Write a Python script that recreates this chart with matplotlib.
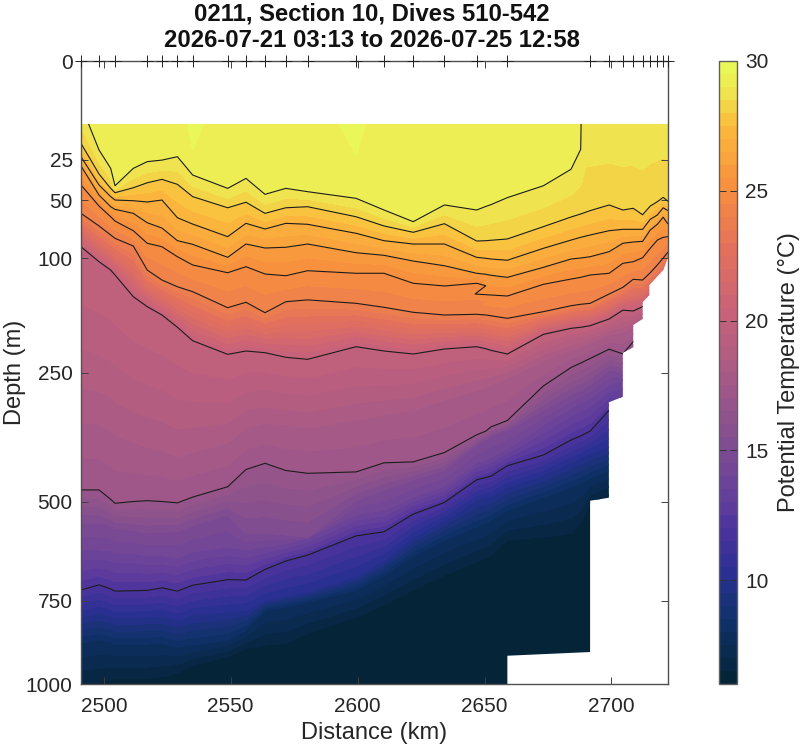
import numpy as np
import matplotlib
matplotlib.use('Agg')
import matplotlib.pyplot as plt
from matplotlib.colors import LinearSegmentedColormap
from matplotlib.patches import Polygon

plt.rcParams['font.family'] = ['Liberation Sans', 'DejaVu Sans']

# grid columns along the section (km)
station_km = [2491.0, 2498.1, 2502.7, 2504.4, 2511.6, 2517.1, 2522.9, 2529.0, 2535.0, 2548.8,
              2556.0, 2563.5, 2571.7, 2580.3, 2599.4, 2610.4, 2621.9, 2634.2, 2646.9, 2650.5,
              2652.5, 2659.0, 2673.2, 2684.1, 2687.9, 2691.6, 2699.1, 2704.5, 2708.6, 2712.3,
              2715.3, 2718.1, 2720.4, 2722.3]

# dive positions, marked along the top axis
dive_km = [2491.0, 2498.1, 2504.4, 2517.1, 2522.9, 2529.0, 2535.0, 2548.8, 2556.0, 2563.5,
           2571.7, 2580.3, 2599.4, 2610.4, 2621.9, 2634.2, 2646.9, 2659.0, 2691.6, 2699.1,
           2704.5, 2708.6, 2712.3, 2715.3, 2718.1, 2720.4, 2722.3]

# depth (m) of each isotherm at every column
depth_30 = [0.0] * 34
depth_295 = [0.1, 0.1, 0.1, 0.1, 0.1, 0.1, 0.1, 0.1, 20.4, 0.1,
             0.1, 0.1, 0.1, 0.1, 22.8, 0.1, 0.1, 0.1, 0.1, 0.1,
             0.1, 0.1, 0.1, 0.1, 0.1, 0.1, 0.1, 0.1, 0.1, 0.1,
             0.1, 0.1, 0.1, 0.1]
depth_29 = [5.0, 20.4, 29.7, 40.1, 29.7, 26.1, 25.3, 23.6, 33.5, 41.8,
            35.5, 45.8, 41.8, 44.0, 48.6, 57.2, 66.5, 53.4, 57.2, 54.5,
            53.2, 48.1, 40.1, 30.2, 20.1, 0.2, 0.2, 0.2, 0.2, 0.2,
            0.2, 0.2, 0.2, 0.2]
depth_28 = [17.5, 32.9, 41.8, 44.7, 41.4, 38.2, 36.1, 39.2, 47.4, 55.5,
            51.4, 59.8, 55.5, 54.7, 62.5, 70.1, 75.6, 68.2, 83.5, 83.2,
            82.8, 81.6, 70.7, 62.7, 60.3, 57.7, 53.4, 57.2, 55.9, 60.9,
            54.2, 51.0, 47.9, 50.7]
depth_27 = [23.6, 39.6, 47.4, 49.8, 50.3, 51.2, 49.8, 63.3, 68.5, 79.5,
            67.9, 72.7, 67.9, 68.7, 76.5, 83.2, 86.3, 86.3, 99.3, 100.3,
            101.0, 102.3, 90.4, 82.6, 80.1, 78.0, 74.2, 73.0, 73.0, 73.0,
            64.6, 61.1, 55.5, 57.7]
depth_26 = [28.4, 46.3, 54.7, 56.7, 59.8, 67.4, 71.9, 83.2, 86.6, 99.3,
            86.3, 90.1, 89.4, 86.3, 94.7, 97.3, 103.1, 108.0, 116.1, 117.2,
            118.3, 120.6, 109.7, 101.0, 100.0, 98.7, 93.7, 85.6, 84.4, 83.8,
            73.6, 68.7, 62.9, 68.5]
depth_25 = [39.6, 54.2, 62.5, 66.0, 74.2, 85.6, 88.9, 98.7, 107.2, 115.5,
            109.0, 116.9, 118.8, 113.3, 116.1, 116.1, 127.3, 130.4, 127.3, 130.1,
            139.9, 142.3, 128.5, 122.5, 120.6, 118.0, 116.1, 105.5, 103.8, 99.7,
            90.4, 82.6, 80.1, 79.5]
depth_24 = [59.8, 70.1, 78.0, 81.0, 88.2, 112.6, 123.6, 131.3, 137.1, 156.8,
            150.0, 163.2, 149.3, 147.0, 151.3, 156.3, 162.7, 166.2, 165.3, 166.2,
            167.2, 170.6, 161.9, 154.3, 152.5, 151.3, 139.9, 132.0, 122.8, 123.6,
            115.5, 107.2, 100.0, 94.0]
depth_20 = [88.9, 103.8, 112.6, 118.0, 143.1, 155.5, 166.2, 182.7, 201.6, 221.7,
            216.7, 219.2, 226.2, 229.3, 210.3, 216.7, 221.2, 213.7, 210.3, 213.3,
            215.7, 221.2, 192.5, 184.1, 182.7, 180.5, 171.5, 160.0, 161.0, 155.5,
            147.0, 137.5, 125.8, 114.7]
depth_18 = [336, 341, 350, 360, 374, 384, 390, 404, 394, 376,
            347, 338, 341, 347, 332, 323, 314, 296, 279, 275,
            270, 259, 232, 215, 210, 205, 193, 190, 182, 175,
            163, 149, 130, 118]
depth_17 = [474, 474, 495, 504, 500, 498, 500, 503, 490, 467,
            430, 417, 432, 438, 435, 416, 414, 395, 360, 353,
            345, 333, 272, 242, 235, 228, 214, 221, 203, 195,
            180, 160, 135, 121]
depth_15 = [550, 550, 556, 562, 568, 574, 572, 571, 555, 531,
            574, 574, 579, 584, 497, 474, 452, 431, 380, 370,
            364, 351, 314, 287, 279, 270, 246, 249, 223, 208,
            186, 166, 147, 135]
depth_14 = [616, 616, 618, 624, 624, 631, 630, 636, 621, 608,
            616, 608, 599, 586, 530, 520, 490, 465, 415, 410,
            405, 388, 341, 310, 300, 293, 270, 262, 238, 223,
            208, 180, 160, 147]
depth_12 = [721, 707, 718, 724, 723, 722, 715, 724, 708, 693,
            694, 666, 644, 629, 581, 571, 529, 502, 452, 447,
            444, 422, 400, 370, 362, 353, 314, 323, 296, 270,
            246, 215, 186, 173]
depth_10 = [796, 785, 794, 799, 799, 796, 794, 805, 791, 782,
            777, 749, 737, 726, 683, 642, 584, 543, 497, 492,
            488, 468, 442, 414, 406, 396, 384, 370, 351, 332,
            314, 279, 246, 215]
depth_8 = [873, 864, 870, 876, 876, 876, 873, 885, 879, 864,
           834, 777, 768, 754, 721, 681, 631, 591, 559, 550,
           543, 520, 490, 468, 459, 448, 431, 411, 390, 370,
           351, 314, 279, 246]
depth_65 = [997, 994, 987, 981, 983, 982, 977, 965, 940, 914,
            889, 879, 874, 844, 796, 762, 721, 681, 646, 636,
            629, 591, 584, 574, 550, 503, 485, 463, 442, 421,
            390, 351, 314, 279]
depth_6 = [1000] * 34

# isotherm temperatures, warm to cold, with their depth rows
isotherm_temp = [30, 29.5, 29, 28, 27, 26, 25, 24, 20, 18, 17, 15, 14, 12, 10, 8, 6.5, 6]
isotherm_depth = [depth_30, depth_295, depth_29, depth_28, depth_27, depth_26, depth_25, depth_24,
                  depth_20, depth_18, depth_17, depth_15, depth_14, depth_12, depth_10, depth_8,
                  depth_65, depth_6]
line_levels = [12, 17, 20, 24, 25, 26, 27, 28, 29]

# outline of the sampled area, the rest stays white
edge_km = [2491.0, 2722.3, 2722.3, 2720.4, 2714.9, 2714.9, 2712.3, 2712.3, 2708.6, 2708.6,
           2704.5, 2704.5, 2699.0, 2699.0, 2691.6, 2691.6, 2659.0, 2659.0, 2491.0]
edge_depth = [10.2, 10.2, 99.0, 112.6, 129.3, 141.1, 150.0, 171.5, 179.6, 211.2,
              219.2, 290.4, 300.1, 491.4, 498.2, 900.0, 911.3, 1000.0, 1000.0]

# cmocean thermal look
thermal_colors = ['#042333', '#0f3169', '#2b3093', '#4c339d', '#64409b', '#85508f', '#a85a85',
                  '#c8627a', '#e4705c', '#f88f3d', '#fbbb3c', '#efe54f', '#e8fa5b']
thermal_pos = [0, 0.1, 0.18, 0.25, 0.3, 0.4, 0.5, 0.6, 0.7, 0.8, 0.9, 0.95, 1]
cmap = LinearSegmentedColormap.from_list('thermal', list(zip(thermal_pos, thermal_colors)), N=256)

x = np.tile(np.array(station_km), (len(isotherm_temp), 1))
y = np.array(isotherm_depth, dtype=float)
z = np.tile(np.array(isotherm_temp, dtype=float)[:, None], (1, len(station_km)))

# 29 deg line goes straight up to the surface, 25 deg line folds back on itself
x[isotherm_temp.index(29), 25] = 2688.4
x[isotherm_temp.index(25), 20] = 2646.3

fig = plt.figure(figsize=(8, 7.46), dpi=100)
ax = fig.add_axes([81 / 800, 1 - 684 / 746, 587 / 800, 623 / 746])
ax.set_yscale('function', functions=(np.sqrt, np.square))

fills = ax.contourf(x, y, z, levels=np.arange(6, 30.5, 0.5), cmap=cmap, vmin=6, vmax=30)
lines = ax.contour(x, y, z, levels=line_levels, colors='#1c1c1c', linewidths=0.8)

outline = Polygon(np.column_stack([edge_km, edge_depth]), closed=True, transform=ax.transData,
                  facecolor='none', edgecolor='none')
fills.set_clip_path(outline)
lines.set_clip_path(outline)

ax.plot(dive_km, np.zeros(len(dive_km)), '+', color='#222222', ms=8.5, mew=0.7, clip_on=False, zorder=5)

ax.set_xlim(2491.0, 2722.3)
ax.set_ylim(1000, 0)
ax.set_xticks([2500, 2550, 2600, 2650, 2700])
ax.set_yticks([0, 25, 50, 100, 250, 500, 750, 1000])
ax.set_yticklabels(['0', '25', '50', '100', '250', '500', '750', '1000'])
ax.minorticks_off()
ax.tick_params(direction='in', top=True, right=True, length=5, width=0.7, color='#404040',
               labelsize=15, labelcolor='#262626')
ax.tick_params(axis='x', pad=9)
ax.tick_params(axis='y', pad=6)
for s in ax.spines.values():
    s.set_color('#505050')
    s.set_linewidth(1.0)

ax.set_xlabel('Distance (km)', fontsize=17, color='#262626', labelpad=5)
ax.set_ylabel('Depth (m)', fontsize=17, color='#262626', labelpad=0)
ax.set_title('0211, Section 10, Dives 510-542\n2026-07-21 03:13 to 2026-07-25 12:58',
             fontsize=17.2, fontweight='bold', color='#111111', pad=10, x=0.496)

cax = fig.add_axes([718.5 / 800, 1 - 684 / 746, 18.5 / 800, 623 / 746])
cb = fig.colorbar(fills, cax=cax, ticks=[10, 15, 20, 25, 30])
cb.ax.tick_params(direction='in', left=True, right=True, length=5, width=0.7, color='#303030',
                  labelsize=15, labelcolor='#262626', pad=6)
cb.outline.set_edgecolor('#606060')
cb.outline.set_linewidth(1.0)
cb.set_label('Potential Temperature (°C)', fontsize=17, color='#262626', labelpad=6.5)

fig.savefig('out.png', dpi=100)
